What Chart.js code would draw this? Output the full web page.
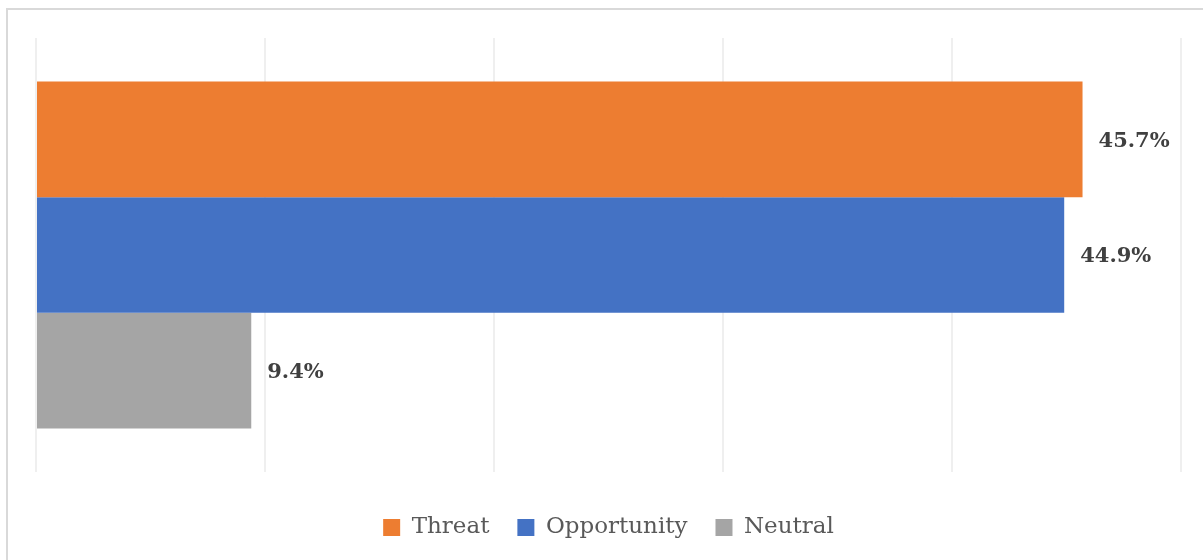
<!DOCTYPE html>
<html>
<head>
<meta charset="utf-8">
<script src="https://cdn.jsdelivr.net/npm/chart.js"></script>
<style>
  body { margin: 0; background: #fff; }
  #frame {
    position: absolute; left: 6px; top: 8px;
    width: 1220px; height: 580px;
    border: 2px solid #d9d9d9;
  }
  #wrap { position: absolute; left: 0; top: 0; width: 1203px; height: 560px; }
</style>
</head>
<body>
<div id="frame"></div>
<div id="wrap"><canvas id="chart"></canvas></div>
<script>
// data
const categories = [''];
const seriesNames = ['Threat', 'Opportunity', 'Neutral'];
const threat = [45.7];
const opportunity = [44.9];
const neutral = [9.4];
const xTicks = [0, 10, 20, 30, 40, 50];

const colors = ['#ED7D31', '#4472C4', '#A5A5A5'];

// value labels at the end of each bar
const barLabels = {
    id: 'barLabels',
    afterDatasetsDraw(chart) {
        const ctx = chart.ctx;
        ctx.save();
        ctx.font = 'bold 21px "DejaVu Serif"';
        ctx.fillStyle = '#404040';
        ctx.textBaseline = 'middle';
        ctx.textAlign = 'left';
        chart.data.datasets.forEach((ds, i) => {
            chart.getDatasetMeta(i).data.forEach((bar, j) => {
                ctx.fillText(ds.data[j].toFixed(1) + '%', bar.x + 16, bar.y + 2);
            });
        });
        ctx.restore();
    }
};

const ctx = document.getElementById('chart').getContext('2d');
new Chart(ctx, {
    type: 'bar',
    data: {
        labels: categories,
        datasets: [
            { label: seriesNames[0], data: threat, backgroundColor: colors[0] },
            { label: seriesNames[1], data: opportunity, backgroundColor: colors[1] },
            { label: seriesNames[2], data: neutral, backgroundColor: colors[2] }
        ]
    },
    options: {
        indexAxis: 'y',
        responsive: true,
        maintainAspectRatio: false,
        animation: false,
        categoryPercentage: 0.8,
        barPercentage: 1,
        layout: { padding: { left: 36, right: 22, top: 38, bottom: 11 } },
        scales: {
            x: {
                min: xTicks[0],
                max: xTicks[xTicks.length - 1],
                afterBuildTicks: axis => { axis.ticks = xTicks.map(v => ({ value: v })); },
                ticks: { display: false },
                grid: { color: '#efefef', lineWidth: 2, drawTicks: false },
                border: { display: false }
            },
            y: { display: false }
        },
        plugins: {
            legend: {
                position: 'bottom',
                // empty title just adds some room above the legend items
                title: { display: true, text: '', font: { size: 10, lineHeight: 1 }, padding: { top: 6, bottom: 0 } },
                labels: {
                    boxWidth: 17,
                    boxHeight: 17,
                    padding: 28,
                    color: '#595959',
                    font: { family: '"DejaVu Serif"', size: 23 }
                }
            },
            tooltip: { enabled: false }
        }
    },
    plugins: [barLabels]
});
</script>
</body>
</html>
